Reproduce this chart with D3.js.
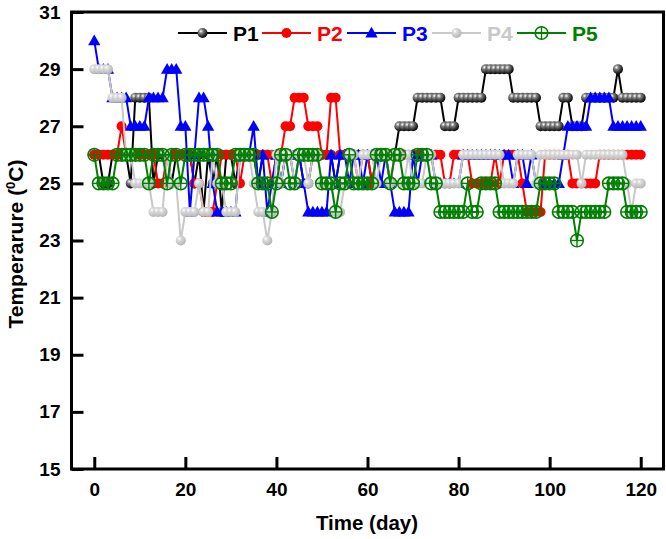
<!DOCTYPE html>
<html><head><meta charset="utf-8">
<script src="https://cdn.jsdelivr.net/npm/d3@7"></script>
<style>body{margin:0;background:#fff}svg{display:block}</style>
</head><body><svg id="c" width="666" height="539"></svg>
<script>
const days = d3.range(0, 121);
const xTicks = [0, 20, 40, 60, 80, 100, 120];
const yTicks = [15, 17, 19, 21, 23, 25, 27, 29, 31];
const seriesNames = ["P1", "P2", "P3", "P4", "P5"];
const P1 = [26,26,25,25,26,26,26,26,25,28, 28,28,28,25,26,26,26,25,26,26, 26,26,25,26,24,26,25,26,24,26,
  26,25,26,26,26,26,25,26,26,26, 26,25,26,26,26,26,25,25,26,26, 26,26,26,25,26,26,26,26,26,26,
  26,25,26,26,26,26,26,27,27,27, 27,28,28,28,28,28,28,27,27,27, 28,28,28,28,28,28,29,29,29,29,
  29,29,28,28,28,28,28,28,27,27, 27,27,27,28,28,27,27,27,28,28, 28,28,28,28,28,29,28,28,28,28, 28];
const P2 = [26,26,26,26,26,26,27,26,26,26, 26,26,26,26,25,25,26,26,26,26, 26,26,25,25,24,24,24,25,26,26,
  26,26,25,26,26,26,26,26,26,25, 26,26,27,27,28,28,28,27,27,27, 26,26,28,28,26,26,26,26,25,26,
  26,25,26,26,26,25,26,26,26,26, 26,26,26,26,26,26,26,25,25,26, 26,26,26,25,25,25,25,25,26,25,
  26,26,26,26,25,24,24,24,24,26, 26,26,26,26,26,25,25,25,25,25, 25,26,26,26,26,26,26,26,26,26, 26];
const P3 = [30,29,29,29,28,28,28,28,27,27, 27,27,28,28,28,28,29,29,29,27, 27,24,26,28,28,27,25,24,24,24,
  24,24,26,26,26,27,25,26,24,25, 26,25,26,26,25,26,25,24,24,24, 24,24,26,25,26,26,25,26,26,25,
  26,26,26,25,26,25,24,24,24,24, 26,25,26,26,26,25,25,25,25,25, 25,26,26,26,26,26,26,26,26,26,
  26,26,25,26,26,25,26,25,25,25, 25,25,25,26,27,27,27,27,27,28, 28,28,28,28,27,27,27,27,27,27, 27];
const P4 = [29,29,29,29,28,28,28,26,26,25, 25,25,25,24,24,24,26,25,25,23, 24,24,24,25,24,24,26,25,25,24,
  24,24,26,26,26,25,24,24,23,24, 26,25,26,26,25,26,26,25,26,26, 25,25,25,24,24,25,26,26,25,26,
  26,26,25,26,26,25,26,26,25,26, 25,25,25,26,26,25,25,25,25,25, 25,26,26,26,26,26,26,26,26,26,
  25,25,25,26,26,26,26,25,26,26, 26,26,26,26,26,26,26,25,26,26, 26,26,26,26,26,26,26,25,24,25, 25];
const P5 = [26,25,25,25,25,26,26,26,26,26, 26,26,25,26,26,26,25,26,26,25, 26,26,26,26,26,26,26,26,25,25,
  25,26,26,26,26,26,25,25,25,24, 25,26,26,25,25,26,26,26,26,26, 25,25,25,24,25,25,26,25,25,25,
  25,25,26,26,26,25,26,26,25,25, 25,26,26,26,25,25,24,24,24,24, 24,24,25,24,24,25,25,25,25,24,
  24,24,24,24,24,24,24,24,25,25, 25,25,24,24,24,24,23,24,24,24, 24,24,24,25,25,25,25,24,24,24, 24];
const seriesValues = [P1, P2, P3, P4, P5];

const m = {l: 71.5, r: 663.5, t: 12, b: 469};
const svg = d3.select("#c");
const x = d3.scaleLinear().domain([-5, 125]).range([m.l, m.r]);
const y = d3.scaleLinear().domain([15, 31]).range([m.b, m.t]);

const defs = svg.append("defs");
function ball(id, dark) {
  const g = defs.append("radialGradient").attr("id", id).attr("cx", "35%").attr("cy", "32%").attr("r", "70%");
  g.append("stop").attr("offset", "0%").attr("stop-color", "#ffffff");
  g.append("stop").attr("offset", "30%").attr("stop-color", d3.interpolateRgb("#ffffff", dark)(0.5));
  g.append("stop").attr("offset", "100%").attr("stop-color", dark);
}
ball("gBlack", "#000000");
ball("gGray", "#b4b4b4");

const styles = [
  {color: "#000000", text: "#000000", type: "ball", fill: "url(#gBlack)"},
  {color: "#ff0000", text: "#ff0000", type: "dot", fill: "#ff0000"},
  {color: "#0000ff", text: "#0000ff", type: "tri", fill: "#0000ff"},
  {color: "#c8c8c8", text: "#c8c8c8", type: "ball", fill: "url(#gGray)"},
  {color: "#008000", text: "#008000", type: "cross", fill: "none"}
];

function drawMarker(g, s, cx, cy) {
  if (s.type === "ball" || s.type === "dot") {
    g.append("circle").attr("cx", cx).attr("cy", cy).attr("r", 5).attr("fill", s.fill);
  } else if (s.type === "tri") {
    g.append("path").attr("d", d3.symbol(d3.symbolTriangle, 66)()).attr("transform", `translate(${cx},${cy + 1})`).attr("fill", s.fill);
  } else {
    g.append("circle").attr("cx", cx).attr("cy", cy).attr("r", 6.3).attr("fill", "none").attr("stroke", s.color).attr("stroke-width", 1.6);
    g.append("line").attr("x1", cx - 6.3).attr("x2", cx + 6.3).attr("y1", cy).attr("y2", cy).attr("stroke", s.color).attr("stroke-width", 1.4);
    g.append("line").attr("x1", cx).attr("x2", cx).attr("y1", cy - 6.3).attr("y2", cy + 6.3).attr("stroke", s.color).attr("stroke-width", 1.4);
  }
}

const line = d3.line().x((d, i) => x(days[i])).y(d => y(d));
const plot = svg.append("g");
seriesValues.forEach((vals, k) => {
  const s = styles[k];
  const g = plot.append("g");
  g.append("path").attr("d", line(vals)).attr("fill", "none").attr("stroke", s.color).attr("stroke-width", 2);
  vals.forEach((v, i) => drawMarker(g, s, x(days[i]), y(v)));
});

const fontFam = "'Liberation Sans', Arial, sans-serif";
const xAxis = svg.append("g").attr("transform", `translate(0,${m.b})`)
  .call(d3.axisBottom(x).tickValues(xTicks).tickSize(-12).tickPadding(14).tickFormat(d3.format("d")));
const yAxis = svg.append("g").attr("transform", `translate(${m.l},0)`)
  .call(d3.axisLeft(y).tickValues(yTicks).tickSize(-12).tickPadding(11).tickFormat(d3.format("d")));
[xAxis, yAxis].forEach(a => {
  a.select(".domain").remove();
  a.selectAll(".tick line").attr("stroke", "#000").attr("stroke-width", 3);
  a.selectAll(".tick text").attr("fill", "#000").style("font-family", fontFam).style("font-weight", "bold").style("font-size", "19px");
});
svg.append("rect").attr("x", m.l).attr("y", m.t).attr("width", m.r - m.l).attr("height", m.b - m.t)
  .attr("fill", "none").attr("stroke", "#000").attr("stroke-width", 3);

svg.append("text").attr("x", 367).attr("y", 530).attr("text-anchor", "middle")
  .style("font-family", fontFam).style("font-weight", "bold").style("font-size", "20.5px").text("Time (day)");
const yt = svg.append("text").attr("transform", "translate(23,244) rotate(-90)").attr("text-anchor", "middle")
  .style("font-family", fontFam).style("font-weight", "bold").style("font-size", "21px");
yt.append("tspan").text("Temperarure (");
yt.append("tspan").attr("dy", -8).style("font-size", "13px").text("0");
yt.append("tspan").attr("dy", 8).text("C)");

const legX = [178, 262, 347, 432, 517];
const legY = 33;
seriesNames.forEach((name, k) => {
  const s = styles[k];
  const g = svg.append("g");
  const x0 = legX[k];
  g.append("line").attr("x1", x0).attr("x2", x0 + 49).attr("y1", legY).attr("y2", legY).attr("stroke", s.color).attr("stroke-width", 2);
  drawMarker(g, s, x0 + 24.5, legY);
  g.append("text").attr("x", x0 + 55).attr("y", legY + 7.5).attr("fill", s.text)
    .style("font-family", fontFam).style("font-weight", "bold").style("font-size", "21px").text(name);
});
</script></body></html>
